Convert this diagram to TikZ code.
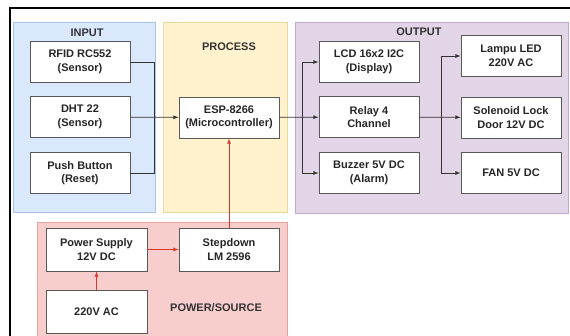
\documentclass[tikz,border=0pt]{standalone}
\usepackage{fontspec}
\setmainfont{Liberation Sans}
\usepackage{tikz}
\usetikzlibrary{shapes.geometric,arrows}
\definecolor{inbg}{RGB}{218,232,252}
\definecolor{inln}{RGB}{170,195,230}
\definecolor{prbg}{RGB}{255,242,204}
\definecolor{prln}{RGB}{235,215,160}
\definecolor{outbg}{RGB}{225,213,231}
\definecolor{outln}{RGB}{190,170,205}
\definecolor{pwbg}{RGB}{248,206,204}
\definecolor{pwln}{RGB}{225,165,160}
\definecolor{pwred}{RGB}{215,55,45}
\tikzstyle{block}=[rectangle, draw=black!65, fill=white, line width=0.9pt, minimum width=100pt, minimum height=41pt, inner sep=1pt, align=center, text=black!85, font=\fontsize{11}{13.5}\selectfont\bfseries]
\tikzstyle{title}=[text=black!80, font=\fontsize{11}{13}\selectfont\bfseries]
\tikzstyle{link}=[draw=black!80, line width=0.8pt]
\tikzstyle{pwr}=[draw=pwred, line width=0.8pt]

\begin{document}
\begin{tikzpicture}[x=1pt,y=-1pt]
\clip (0,0) rectangle (570,336);
\fill[white] (0,0) rectangle (570,336);
% panels
\draw[fill=inbg, draw=inln] (13,22) rectangle (155,212);
\draw[fill=prbg, draw=prln] (163,22) rectangle (287,212);
\draw[fill=outbg, draw=outln] (295,22) rectangle (568,213);
\draw[fill=pwbg, draw=pwln] (37,222) rectangle (287,345);
\draw[line width=1.3pt] (10,360) -- (10,8) -- (600,8);
\node[title] (TIN) at (87,33){INPUT};
\node[title] (TPR) at (229,47){PROCESS};
\node[title] (TOUT) at (419,32){OUTPUT};
\node[title] (TPW) at (216,308){POWER/SOURCE};
% blocks
\node[block] (RFID) at (80,62){RFID RC552\\(Sensor)};
\node[block] (DHT) at (80,117){DHT 22\\(Sensor)};
\node[block] (PB) at (80,173){Push Button\\(Reset)};
\node[block] (ESP) at (229,117.5){ESP-8266\\(Microcontroller)};
\node[block] (LCD) at (369,62){LCD 16x2 I2C\\(Display)};
\node[block] (RLY) at (369,117){Relay 4\\Channel};
\node[block] (BZ) at (369,173){Buzzer 5V DC\\(Alarm)};
\node[block] (LED) at (511,56){Lampu LED\\220V AC};
\node[block] (SOL) at (511,117.5){Solenoid Lock\\Door 12V DC};
\node[block] (FAN) at (511,173){FAN 5V DC};
\node[block, minimum width=101pt, minimum height=43pt] (PSU) at (96.5,249.5){Power Supply\\12V DC};
\node[block, minimum height=43pt] (SD) at (229,249.5){Stepdown\\LM 2596};
\node[block, minimum width=101pt, minimum height=43pt] (AC) at (96.5,311.5){220V AC};
% connectors
\coordinate (J1) at (154,117);
\coordinate (J2) at (302,117);
\coordinate (J3) at (441,117);
\draw[link] (RFID.east) -| (J1);
\draw[link] (PB.east) -| (J1);
\draw[link, -latex] (DHT) -- (ESP);
\draw[link, -latex] (ESP) -- (RLY);
\draw[link, -latex] (J2) |- (LCD);
\draw[link, -latex] (J2) |- (BZ);
\draw[link, -latex] (RLY) -- (SOL);
\draw[link, -latex] (J3) |- (LED);
\draw[link, -latex] (J3) |- (FAN);
\draw[pwr, -latex] (SD) -- (ESP);
\draw[pwr, -latex] (PSU) -- (SD);
\draw[pwr, -latex] (AC) -- (PSU);
\end{tikzpicture}
\end{document}
